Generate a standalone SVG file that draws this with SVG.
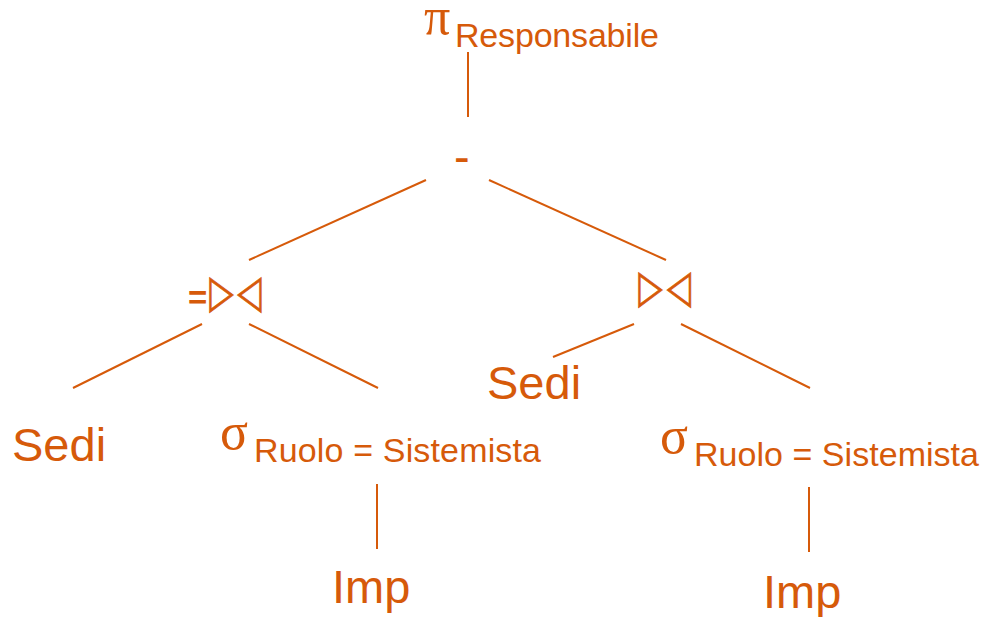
<svg xmlns="http://www.w3.org/2000/svg" width="986" height="617" viewBox="0 0 986 617">
<style>
.t{fill:#D65A0A;font-family:"Liberation Sans",Arial,sans-serif}
.g{fill:#D65A0A;font-family:"Liberation Serif","Times New Roman",serif;font-size:52px}
.s{fill:#D65A0A;stroke:#D65A0A;stroke-width:0.9;font-family:"DejaVu Sans",sans-serif;font-size:46px}
.big{font-size:47px}
.sub{font-size:34px}
.c line{stroke:#D65A0A;stroke-width:2}
</style>
<rect width="986" height="617" fill="#fff"/>
<g class="c" id="connectors">
<line x1="468" y1="52" x2="468" y2="117"/>
<line x1="426" y1="180" x2="249" y2="260"/>
<line x1="489" y1="180" x2="666" y2="260"/>
<line x1="202" y1="324" x2="73" y2="388"/>
<line x1="249" y1="324" x2="378" y2="388"/>
<line x1="634" y1="324" x2="553" y2="357"/>
<line x1="681" y1="324" x2="810" y2="388"/>
<line x1="377" y1="484" x2="377" y2="549"/>
<line x1="809" y1="487" x2="809" y2="552"/>
</g>
<g id="proj">
<text class="g" x="424" y="34" font-size="48">π</text>
<text class="t sub" x="455" y="47" textLength="204">Responsabile</text>
</g>
<g id="diff">
<text class="t big" x="454" y="173">-</text>
</g>
<g id="semijoin">
<text class="t" x="188" y="309" font-size="33" font-weight="bold">=</text>
<text class="s" transform="translate(221.5 307) scale(0.68 1)" text-anchor="middle">▷</text>
<text class="s" transform="translate(249.5 307) scale(0.68 1)" text-anchor="middle">◁</text>
</g>
<g id="join">
<text class="s" transform="translate(650.5 302) scale(0.68 1)" text-anchor="middle">▷</text>
<text class="s" transform="translate(679 302) scale(0.68 1)" text-anchor="middle">◁</text>
</g>
<g id="sedi1">
<text class="t big" x="12" y="461">Sedi</text>
</g>
<g id="sel1">
<text class="g" x="220" y="449">σ</text>
<text class="t sub" x="254" y="462" textLength="287">Ruolo = Sistemista</text>
</g>
<g id="imp1">
<text class="t big" x="332" y="603">Imp</text>
</g>
<g id="sedi2">
<text class="t big" x="487" y="399">Sedi</text>
</g>
<g id="sel2">
<text class="g" x="660" y="453">σ</text>
<text class="t sub" x="694" y="466" textLength="285">Ruolo = Sistemista</text>
</g>
<g id="imp2">
<text class="t big" x="763" y="608">Imp</text>
</g>
</svg>
